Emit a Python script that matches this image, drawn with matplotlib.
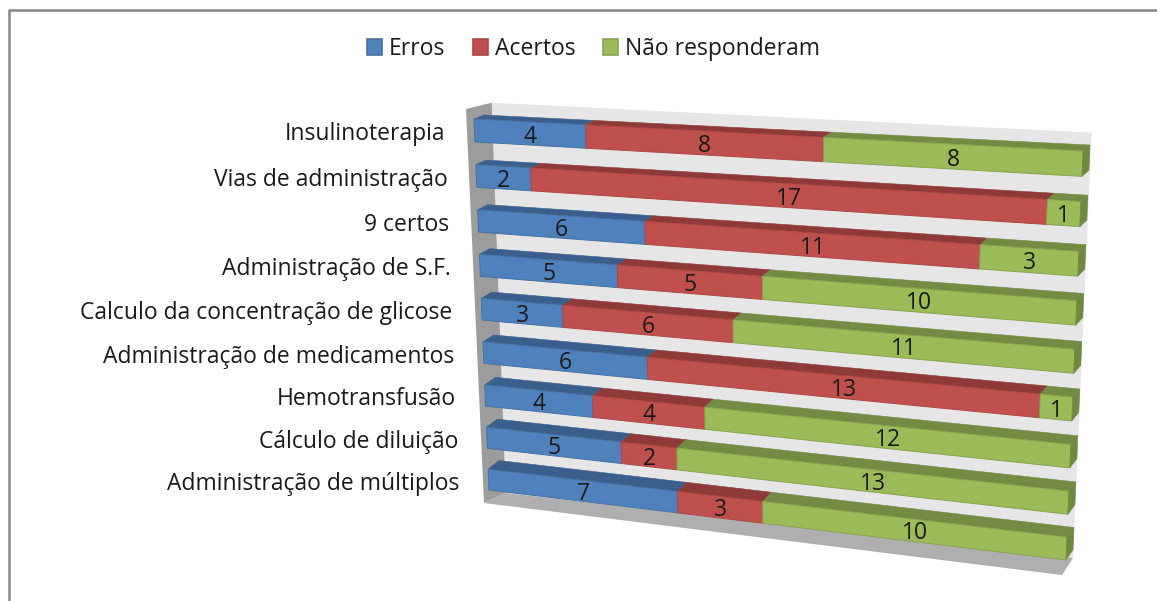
import numpy as np
import matplotlib
matplotlib.use("Agg")
import matplotlib.pyplot as plt
from matplotlib.patches import Polygon, Patch
from matplotlib.lines import Line2D

categories = ["Insulinoterapia", "Vias de administração", "9 certos", "Administração de S.F.",
              "Calculo da concentração de glicose", "Administração de medicamentos",
              "Hemotransfusão", "Cálculo de diluição", "Administração de múltiplos"]
erros = [4, 2, 6, 5, 3, 6, 4, 5, 7]
acertos = [8, 17, 11, 5, 6, 13, 4, 2, 3]
nao_resp = [8, 1, 3, 10, 11, 1, 12, 13, 10]
series_names = ["Erros", "Acertos", "Não responderam"]

plt.rcParams['font.family'] = ['Open Sans', 'DejaVu Sans']
W, H = 1157, 601
fig = plt.figure(figsize=(W / 100, H / 100), dpi=100)
ax = fig.add_axes([0, 0, 1, 1])
ax.set_xlim(0, W); ax.set_ylim(H, 0); ax.axis('off')

def homography(tl, tr, bl, br):
    src = [(0, 0), (1, 0), (0, 1), (1, 1)]
    dst = [tl, tr, bl, br]
    A, b = [], []
    for (u, v), (x, y) in zip(src, dst):
        A.append([u, v, 1, 0, 0, 0, -u * x, -v * x]); b.append(x)
        A.append([0, 0, 0, u, v, 1, -u * y, -v * y]); b.append(y)
    h = np.linalg.solve(np.array(A, float), np.array(b, float))
    M = np.append(h, 1).reshape(3, 3)
    def f(u, v):
        p = M @ np.array([u, v, 1.0])
        return (p[0] / p[2], p[1] / p[2])
    return f

front = homography((474, 119), (1083, 151), (489, 490), (1066, 560))
back = homography((484, 115), (1090, 145), (500, 481), (1073, 550))

# walls and floor
ax.add_patch(Polygon([(491.7, 102.7), (1091.7, 132.7), (1073, 558), (505.7, 493)], fc='#E6E6E6', ec='none', zorder=1))
ax.add_patch(Polygon([(466, 109), (491.7, 102.7), (505.7, 493), (484, 503)], fc='#9C9C9C', ec='none', zorder=1))
ax.add_patch(Polygon([(484, 503), (505.7, 493), (1073, 558), (1062, 575)], fc='#AFAFAF', ec='none', zorder=1))

face = ['#4F81BD', '#C0504D', '#9BBB59']
top = ['#3B5F8C', '#8E3A38', '#738B43']
edge = ['#45729F', '#AC4744', '#88A44E']
side = ['#3B5F8C', '#8E3A38', '#6F8A40']

n = len(categories)
units = 2 * n - 1
total = 20.0
FS = 16.5
z = 2
for i, cat in enumerate(categories):
    v0, v1 = 2 * i / units, (2 * i + 1) / units
    vm = (v0 + v1) / 2
    vals = [erros[i], acertos[i], nao_resp[i]]
    cum = 0
    for k, val in enumerate(vals):
        u0, u1 = cum / total, (cum + val) / total
        ax.add_patch(Polygon([front(u0, v0), front(u1, v0), back(u1, v0), back(u0, v0)],
                             fc=top[k], ec=top[k], lw=0.4, zorder=z))
        z += 0.01
        cum += val
    cum = 0
    for k, val in enumerate(vals):
        u0, u1 = cum / total, (cum + val) / total
        ax.add_patch(Polygon([front(u0, v0), front(u1, v0), front(u1, v1), front(u0, v1)],
                             fc=face[k], ec=edge[k], lw=0.7, zorder=z))
        z += 0.01
        (xa, ya), (xb, yb) = front(u0, vm), front(u1, vm)
        ax.text((xa + xb) / 2, (ya + yb) / 2 + 3, str(val), ha='center', va='center',
                fontsize=FS, color='#1a1a1a', zorder=50)
        cum += val
    ax.add_patch(Polygon([front(1, v0), front(1, v1), back(1, v1), back(1, v0)],
                         fc=side[2], ec=side[2], lw=0.4, zorder=z))
    z += 0.01
    xl, yl = front(0, vm)
    ax.text(xl - 29, yl + 4, cat, ha='right', va='center', fontsize=FS, color='#1a1a1a', zorder=50)

# chart border
ax.add_line(Line2D([9, 9, W], [H, 10, 10], color='#868686', lw=1.8, zorder=60))

handles = [Patch(fc=face[k], ec=edge[k], lw=1.2, label=series_names[k]) for k in range(3)]
ax.legend(handles=handles, loc='center', bbox_to_anchor=(593.5 / W, 1 - 49 / H),
          bbox_transform=fig.transFigure, ncol=3, frameon=False, fontsize=FS,
          handlelength=0.66, handleheight=0.66, handletextpad=0.28, columnspacing=1.22,
          labelcolor='#1a1a1a', borderpad=0, borderaxespad=0)

fig.savefig('out.png', dpi=100)
